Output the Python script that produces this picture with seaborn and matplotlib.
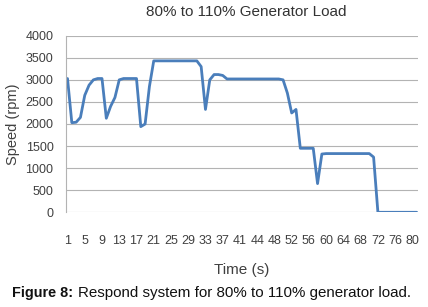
import numpy as np
import pandas as pd
import matplotlib
matplotlib.use("Agg")
import matplotlib.pyplot as plt
import seaborn as sns

# time labels (category axis, one per sample)
time_s = list(range(1, 42)) + [42, 42, 43] + list(range(44, 82))

# generator speed (rpm)
speed_rpm = [3030, 2030, 2040, 2150, 2650, 2880, 3000, 3030, 3030, 2130,
             2400, 2600, 3000, 3030, 3030, 3030, 3030, 1940, 2000, 2850,
             3430, 3430, 3430, 3430, 3430, 3430, 3430, 3430, 3430, 3430,
             3430, 3300, 2330, 3000, 3120, 3120, 3100, 3020, 3020, 3020,
             3020, 3020, 3020, 3020, 3020, 3020, 3020, 3020, 3020, 3020,
             3000, 2700, 2250, 2330, 1450, 1450, 1450, 1450, 650, 1320,
             1330, 1330, 1330, 1330, 1330, 1330, 1330, 1330, 1330, 1330,
             1330, 1250, 0, 0, 0, 0, 0, 0, 0, 0,
             0, 0]

y_ticks = [0, 500, 1000, 1500, 2000, 2500, 3000, 3500, 4000]

df = pd.DataFrame({"idx": np.arange(len(speed_rpm)), "speed": speed_rpm})

sns.set_style("white")
plt.rcParams["font.family"] = ["Liberation Sans", "DejaVu Sans"]

fig = plt.figure(figsize=(4.28, 3.07), dpi=100)
ax = fig.add_axes([66 / 428, 1 - 212.3 / 307, 352 / 428, (212.3 - 35.7) / 307])

sns.lineplot(data=df, x="idx", y="speed", ax=ax, color="#4a7ebb", linewidth=2.0)

ax.set_xlim(-0.35, 81.3)
ax.set_ylim(0, 4000)
ax.set_yticks(y_ticks)
ax.set_yticklabels([str(v) for v in y_ticks])
ax.set_xticks(df["idx"][::4])
ax.set_xticklabels([str(t) for t in time_s[::4]])
ax.tick_params(axis="both", length=0, labelsize=9, colors="#404040")
ax.tick_params(axis="x", pad=16)
ax.tick_params(axis="y", pad=9)
ax.grid(axis="y", color="#b3b3b3", linewidth=0.8)
ax.set_axisbelow(True)
for s in ["top", "right", "bottom"]:
    ax.spines[s].set_visible(False)
ax.spines["left"].set_color("#b3b3b3")
ax.spines["left"].set_linewidth(0.8)

ax.set_xlabel("Time (s)", fontsize=11, color="#404040", labelpad=12)
ax.set_ylabel("Speed (rpm)", fontsize=10.5, color="#404040", labelpad=4)

fig.text(246 / 428, 1 - 12 / 307, "80% to 110% Generator Load",
         ha="center", va="center", fontsize=11, color="#333333")

fig.text(12 / 428, 1 - 293 / 307, "Figure 8:", ha="left", va="center",
         fontsize=10.4, fontweight="bold", color="#111111")
fig.text(78 / 428, 1 - 293 / 307, "Respond system for 80% to 110% generator load.",
         ha="left", va="center", fontsize=10.9, color="#111111")

fig.savefig("out.png", dpi=100)
